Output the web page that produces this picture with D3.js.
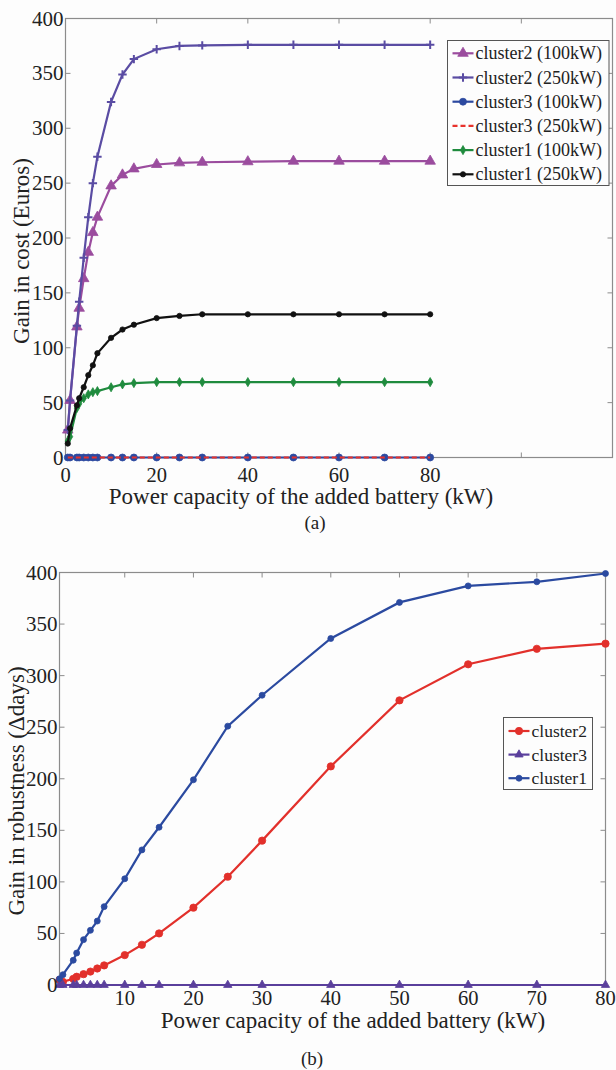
<!DOCTYPE html>
<html><head><meta charset="utf-8">
<script src="https://cdn.jsdelivr.net/npm/d3@7"></script>
<style>
html,body{margin:0;padding:0;background:#fdfdfd;}
svg{display:block;}
text{font-family:"Liberation Serif","Times New Roman",serif;fill:#222;}
</style></head>
<body>
<svg id="chart" width="616" height="1070"></svg>
<script>
// ---------- Data: chart (a) ----------
const xA = [0.5, 1, 2.5, 3, 4, 5, 6, 7, 10, 12.5, 15, 20, 25, 30, 40, 50, 60, 70, 80];
const cluster2_100 = [25, 52, 119, 136, 163, 187, 205, 219, 247.5, 257.5, 263, 267, 268.5, 269, 269.5, 270, 270, 270, 270];
const cluster2_250 = [25, 52, 120, 142, 182, 219, 250, 274, 324, 349, 363, 372, 375, 375.5, 376, 376, 376, 376, 376];
const cluster3_100 = [0, 0, 0, 0, 0, 0, 0, 0, 0, 0, 0, 0, 0, 0, 0, 0, 0, 0, 0];
const cluster3_250 = [0, 0, 0, 0, 0, 0, 0, 0, 0, 0, 0, 0, 0, 0, 0, 0, 0, 0, 0];
const cluster1_100 = [15, 19, 45, 49, 54, 57.5, 59.5, 60.5, 64, 66.6, 67.8, 68.7, 68.7, 68.7, 68.7, 68.7, 68.7, 68.7, 68.7];
const cluster1_250 = [12.7, 26.6, 47.5, 54, 64, 75, 84, 95, 109, 116.6, 121, 127, 129, 130.5, 130.5, 130.5, 130.5, 130.5, 130.5];
const xTicksA = [0, 20, 40, 60, 80, 100];
const xLabelsA = ["0", "20", "40", "60", "80", ""];
const yTicksA = [0, 50, 100, 150, 200, 250, 300, 350, 400];
const legendA = ["cluster2 (100kW)", "cluster2 (250kW)", "cluster3 (100kW)", "cluster3 (250kW)", "cluster1 (100kW)", "cluster1 (250kW)"];

// ---------- Data: chart (b) ----------
const xB = [0.5, 1, 2.5, 3, 4, 5, 6, 7, 10, 12.5, 15, 20, 25, 30, 40, 50, 60, 70, 80];
const cluster2_b = [5, 3, 6, 8, 10.5, 13, 16, 19, 29, 39, 50, 75, 105, 140, 212, 276, 311, 326, 331];
const cluster3_b = [0, 0, 0, 0, 0, 0, 0, 0, 0, 0, 0, 0, 0, 0, 0, 0, 0, 0, 0];
const cluster1_b = [6, 10, 24, 31, 44, 53, 62, 76, 103, 131, 153, 199, 251, 281, 336, 371, 387, 391, 399];
const xTicksB = [10, 20, 30, 40, 50, 60, 70, 80];
const yTicksB = [0, 50, 100, 150, 200, 250, 300, 350, 400];
const legendB = ["cluster2", "cluster3", "cluster1"];

const svg = d3.select("#chart");
const axisColor = "#8c8c8c";

function symbolPath(kind, size) {
  const m = {tri: d3.symbolTriangle, circle: d3.symbolCircle, diamond: d3.symbolDiamond};
  return d3.symbol().type(m[kind]).size(size)();
}

function drawMarker(g, kind, size, color, x, y) {
  if (kind === "plus") {
    const s = Math.sqrt(size) * 0.9;
    g.append("path").attr("d", `M${x - s},${y}H${x + s}M${x},${y - s}V${y + s}`)
      .attr("stroke", color).attr("stroke-width", 2).attr("fill", "none");
  } else if (kind !== "none") {
    g.append("path").attr("d", symbolPath(kind, size))
      .attr("transform", `translate(${x},${y})`).attr("fill", color).attr("stroke", color).attr("stroke-width", 0.8);
  }
}

function panel(opts) {
  const g = svg.append("g");
  const x = d3.scaleLinear().domain(opts.xDomain).range([opts.left, opts.right]);
  const y = d3.scaleLinear().domain([0, 400]).range([opts.bottom, opts.top]);
  g.append("rect").attr("x", opts.left).attr("y", opts.top)
    .attr("width", opts.right - opts.left).attr("height", opts.bottom - opts.top)
    .attr("fill", "#fdfdfd").attr("stroke", axisColor).attr("stroke-width", 1.2);
  const tl = 5;
  opts.xTicks.forEach(t => {
    const px = x(t);
    g.append("line").attr("x1", px).attr("x2", px).attr("y1", opts.bottom).attr("y2", opts.bottom - tl).attr("stroke", axisColor);
    g.append("line").attr("x1", px).attr("x2", px).attr("y1", opts.top).attr("y2", opts.top + tl).attr("stroke", axisColor);
  });
  opts.yTicks.forEach(t => {
    const py = y(t);
    g.append("line").attr("x1", opts.left).attr("x2", opts.left + tl).attr("y1", py).attr("y2", py).attr("stroke", axisColor);
    g.append("line").attr("x1", opts.right).attr("x2", opts.right - tl).attr("y1", py).attr("y2", py).attr("stroke", axisColor);
  });
  opts.series.forEach(s => {
    const pts = opts.xs.map((d, i) => [d, s.values[i]]);
    const line = d3.line().x(d => x(d[0])).y(d => y(d[1]));
    g.append("path").datum(pts).attr("d", line).attr("fill", "none")
      .attr("stroke", s.color).attr("stroke-width", 2.2)
      .attr("stroke-dasharray", s.dash || null);
    pts.forEach(p => drawMarker(g, s.marker, s.msize, s.color, x(p[0]), y(p[1])));
  });
  opts.xTicks.forEach((t, i) => {
    const lab = opts.xLabels ? opts.xLabels[i] : String(t);
    if (!lab) return;
    g.append("text").attr("x", x(t)).attr("y", opts.xLabelY).attr("text-anchor", "middle")
      .attr("font-size", 20.5).text(lab);
  });
  opts.yTicks.forEach(t => {
    g.append("text").attr("x", opts.left - 2).attr("y", y(t) + 7).attr("text-anchor", "end")
      .attr("font-size", 21).text(t);
  });
  g.append("text").attr("x", opts.xTitleX).attr("y", opts.xTitleY).attr("text-anchor", "middle")
    .attr("font-size", 23).text(opts.xTitle);
  g.append("text").attr("transform", `translate(${opts.yTitleX},${opts.yTitleY}) rotate(-90)`)
    .attr("text-anchor", "middle").attr("font-size", 23).text(opts.yTitle);
  g.append("text").attr("x", opts.capX).attr("y", opts.capY).attr("text-anchor", "middle")
    .attr("font-size", 19).text(opts.caption);
  const L = opts.legend;
  g.append("rect").attr("x", L.x).attr("y", L.y).attr("width", L.w).attr("height", L.h)
    .attr("fill", "#fdfdfd").attr("stroke", "#555").attr("stroke-width", 1);
  opts.series.forEach((s, i) => {
    const cy = L.y + L.first + i * L.step;
    g.append("line").attr("x1", L.x + 5).attr("x2", L.x + 5 + L.len).attr("y1", cy).attr("y2", cy)
      .attr("stroke", s.color).attr("stroke-width", 2.2).attr("stroke-dasharray", s.dash || null);
    drawMarker(g, s.marker, s.msize, s.color, L.x + 5 + L.len / 2, cy);
    g.append("text").attr("x", L.x + 7 + L.len).attr("y", cy + 6).attr("font-size", L.fs).text(s.name);
  });
}

panel({
  left: 65.5, right: 612.5, top: 18.5, bottom: 457.5,
  xDomain: [0, 120], xs: xA,
  xTicks: xTicksA, xLabels: xLabelsA, yTicks: yTicksA,
  xLabelY: 482, xTitle: "Power capacity of the added battery (kW)", xTitleX: 301, xTitleY: 504,
  yTitle: "Gain in cost (Euros)", yTitleX: 29, yTitleY: 251,
  caption: "(a)", capX: 315, capY: 529,
  series: [
    {name: legendA[0], values: cluster2_100, color: "#9b4c9e", marker: "tri", msize: 48},
    {name: legendA[1], values: cluster2_250, color: "#5a4ca3", marker: "plus", msize: 22},
    {name: legendA[2], values: cluster3_100, color: "#2c49a0", marker: "circle", msize: 38},
    {name: legendA[3], values: cluster3_250, color: "#e8322c", marker: "none", msize: 0, dash: "5,3"},
    {name: legendA[4], values: cluster1_100, color: "#1f8b3e", marker: "diamond", msize: 24},
    {name: legendA[5], values: cluster1_250, color: "#111111", marker: "circle", msize: 22}
  ],
  legend: {x: 447.5, y: 40.5, w: 161.5, h: 145, first: 12.8, step: 24.2, len: 21, fs: 18}
});

panel({
  left: 59.5, right: 605.5, top: 572.5, bottom: 985,
  xDomain: [0.5, 80], xs: xB,
  xTicks: xTicksB, yTicks: yTicksB,
  xLabelY: 1005, xTitle: "Power capacity of the added battery (kW)", xTitleX: 353, xTitleY: 1028,
  yTitle: "Gain in robustness (\u0394days)", yTitleX: 24, yTitleY: 791,
  caption: "(b)", capX: 312, capY: 1065,
  series: [
    {name: legendB[0], values: cluster2_b, color: "#e2302b", marker: "circle", msize: 42},
    {name: legendB[1], values: cluster3_b, color: "#5a3f9c", marker: "tri", msize: 30},
    {name: legendB[2], values: cluster1_b, color: "#2b4aa0", marker: "circle", msize: 28}
  ],
  legend: {x: 503.5, y: 717.5, w: 89, h: 72, first: 13.5, step: 23.6, len: 21, fs: 17.5}
});
</script>
</body></html>
